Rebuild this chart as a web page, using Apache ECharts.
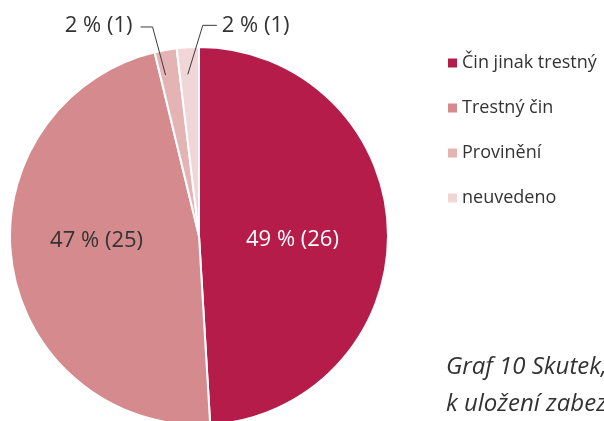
<!DOCTYPE html>
<html>
<head>
<meta charset="utf-8">
<script src="https://cdn.jsdelivr.net/npm/echarts@6/dist/echarts.min.js"></script>
<style>html,body{margin:0;padding:0;background:#fff}#c{width:604px;height:421px}</style>
</head>
<body>
<div id="c"></div>
<script>
const categories = ['Čin jinak trestný', 'Trestný čin', 'Provinění', 'neuvedeno'];
const counts = [26, 25, 1, 1];
const colors = ['#b51c4a', '#d58a8e', '#e4b4b4', '#f0d6d6'];
const titleText = 'Graf 10 Skutek, pro který byla navržena\nk uložení zabezpečovací detence';

const total = counts.reduce((a, b) => a + b, 0);
const FONT = '"Open Sans", "Noto Sans", sans-serif';
const fmt = p => Math.round(p.value / total * 100) + ' % (' + p.value + ')';

const chart = echarts.init(document.getElementById('c'), null, {renderer: 'canvas'});

// main series: sectors + inside labels of the big slices
const mainData = categories.map((name, i) => ({
  name: name,
  value: counts[i],
  itemStyle: {color: colors[i]},
  label: i < 2 ? {show: true, position: 'inside', color: i === 0 ? '#ffffff' : '#333333'} : {show: false}
}));

// overlay series: transparent, carries the outside labels so their lines sit above the sectors
const overlayData = categories.map((name, i) => ({
  name: name,
  value: counts[i],
  label: {show: i >= 2},
  labelLine: {show: i >= 2}
}));

chart.setOption({
  animation: false,
  title: {
    text: titleText,
    left: 441,
    top: 344,
    textStyle: {fontFamily: FONT, fontStyle: 'italic', fontWeight: 'normal', fontSize: 24, color: '#333333', lineHeight: 37}
  },
  legend: {
    orient: 'vertical',
    left: 441,
    top: 49,
    itemWidth: 11,
    itemHeight: 11,
    itemGap: 27,
    icon: 'rect',
    textStyle: {fontFamily: FONT, fontSize: 18, color: '#333333', padding: [0, 0, 0, -1]},
    data: categories
  },
  series: [{
    type: 'pie',
    z: 2,
    center: [199, 236],
    radius: [0, 189],
    startAngle: 90,
    clockwise: true,
    avoidLabelOverlap: false,
    itemStyle: {borderColor: '#ffffff', borderWidth: 2},
    label: {fontFamily: FONT, fontSize: 22, formatter: fmt},
    labelLine: {show: false},
    labelLayout: function (p) {
      if (p.dataIndex === 0) return {dx: -4, dy: 7};
      if (p.dataIndex === 1) return {dx: -6, dy: -10};
      return {};
    },
    data: mainData
  }, {
    type: 'pie',
    z: 10,
    silent: true,
    center: [199, 236],
    radius: [0, 189],
    startAngle: 90,
    clockwise: true,
    avoidLabelOverlap: false,
    itemStyle: {color: 'rgba(0,0,0,0)', borderWidth: 0},
    label: {position: 'outside', fontFamily: FONT, fontSize: 22, color: '#333333', formatter: fmt},
    labelLine: {lineStyle: {color: '#3a3a3a', width: 1}},
    labelLayout: function (p) {
      const pts = p.labelLinePoints;
      if (!pts) return {};
      const e = pts[0];
      if (p.dataIndex === 2) {
        return {
          x: e[0] - 33, y: e[1] - 24, align: 'right', verticalAlign: 'middle',
          labelLinePoints: [[e[0], e[1] + 25], [e[0] - 13, e[1] - 23], [e[0] - 25, e[1] - 23]]
        };
      }
      if (p.dataIndex === 3) {
        return {
          x: e[0] + 34, y: e[1] - 22, align: 'left', verticalAlign: 'middle',
          labelLinePoints: [[e[0], e[1] + 27], [e[0] + 15, e[1] - 22], [e[0] + 29, e[1] - 22]]
        };
      }
      return {};
    },
    data: overlayData
  }]
});
</script>
</body>
</html>
